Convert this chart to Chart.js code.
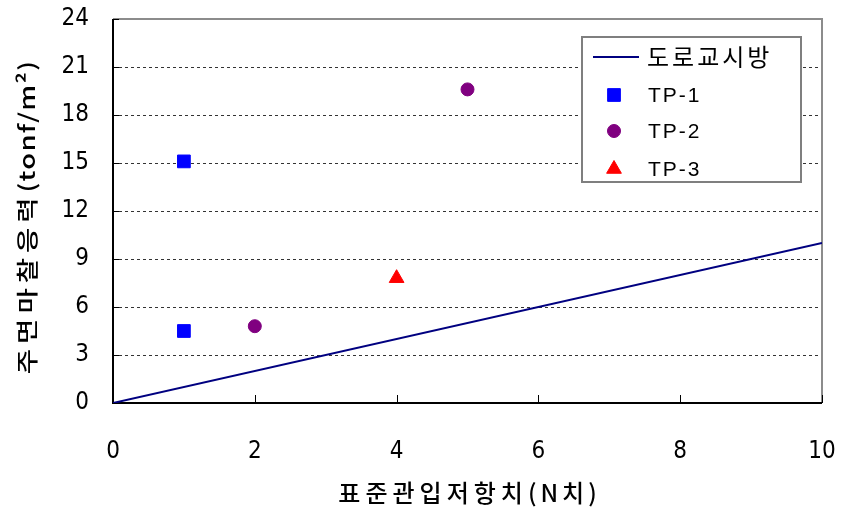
<!DOCTYPE html>
<html>
<head>
<meta charset="utf-8">
<script src="https://cdn.jsdelivr.net/npm/chart.js@4.4.1/dist/chart.umd.min.js"></script>
<style>
  html, body { margin: 0; padding: 0; background: #ffffff; }
  #wrap { width: 841px; height: 513px; position: relative; }
</style>
</head>
<body>
<div id="wrap"><canvas id="c" width="841" height="513"></canvas></div>
<script>
// Design-code line (도로교시방): friction = N value
const specN = [0, 10];
const specFriction = [0, 10];

// Field test piles
const tp1N = [1, 1];
const tp1Friction = [15.1, 4.5];
const tp2N = [2, 5];
const tp2Friction = [4.8, 19.6];
const tp3N = [4];
const tp3Friction = [7.8];

const seriesNames = ['도로교시방', 'TP-1', 'TP-2', 'TP-3'];
const xTicks = [0, 2, 4, 6, 8, 10];
const yTicks = [0, 3, 6, 9, 12, 15, 18, 21, 24];
// axis titles, split into runs that get their own letter spacing
const xTitleRuns = [['표준관입저항치', 5], ['(N치)', 4]];
const yTitleRuns = [['주면마찰응력', 4], ['(tonf/m²)', 1]];

const toPoints = (xs, ys) => xs.map((x, i) => ({ x: x, y: ys[i] }));

const tickFont = { family: "'Liberation Sans Narrow', 'DejaVu Sans Condensed', 'Liberation Sans', sans-serif", size: 24 };
const krFont = "'Noto Sans CJK KR', sans-serif";

// Draws text runs centred on (0,0) of the current transform
function drawRuns(ctx, runs) {
  const widths = runs.map(([text, sp]) => {
    ctx.letterSpacing = sp + 'px';
    return ctx.measureText(text).width;
  });
  const total = widths.reduce((s, w) => s + w, 0);
  let x = -total / 2;
  ctx.textAlign = 'left';
  runs.forEach(([text, sp], i) => {
    ctx.letterSpacing = sp + 'px';
    ctx.fillText(text, x, 0);
    x += widths[i];
  });
  ctx.letterSpacing = '0px';
}

// Frame, inner ticks, axis titles and the boxed legend
const decorations = {
  id: 'decorations',
  beforeDatasetsDraw(chart) {
    const { ctx, chartArea: a } = chart;
    const xs = chart.scales.x, ys = chart.scales.y;
    ctx.save();
    // grey top/right frame
    ctx.strokeStyle = '#8c8c8c';
    ctx.lineWidth = 2;
    ctx.beginPath();
    ctx.moveTo(a.left, a.top);
    ctx.lineTo(a.right, a.top);
    ctx.lineTo(a.right, a.bottom);
    ctx.stroke();
    // black left/bottom axes
    ctx.strokeStyle = '#000000';
    ctx.lineWidth = 2;
    ctx.beginPath();
    ctx.moveTo(a.left, a.top);
    ctx.lineTo(a.left, a.bottom);
    ctx.lineTo(a.right, a.bottom);
    ctx.stroke();
    // inward ticks on the x axis
    ctx.lineWidth = 1;
    xTicks.forEach(v => {
      const px = Math.round(xs.getPixelForValue(v)) + 0.5;
      ctx.beginPath();
      ctx.moveTo(px, a.bottom);
      ctx.lineTo(px, a.bottom - 8);
      ctx.stroke();
    });
    // inward ticks on the y axis
    yTicks.forEach(v => {
      const py = Math.round(ys.getPixelForValue(v)) + 0.5;
      ctx.beginPath();
      ctx.moveTo(a.left, py);
      ctx.lineTo(a.left + 6, py);
      ctx.stroke();
    });
    ctx.restore();
  },
  afterDraw(chart) {
    const { ctx, chartArea: a } = chart;
    ctx.save();
    ctx.fillStyle = '#000000';
    ctx.textBaseline = 'middle';
    ctx.font = '500 24px ' + krFont;
    ctx.save();
    ctx.translate((a.left + a.right) / 2 + 2, 493);
    drawRuns(ctx, xTitleRuns);
    ctx.restore();
    // vertical title, stretched along its reading direction
    ctx.font = '500 22px ' + krFont;
    ctx.translate(27, 217);
    ctx.rotate(-Math.PI / 2);
    ctx.scale(1.25, 1);
    drawRuns(ctx, yTitleRuns);
    ctx.restore();

    // legend box
    const box = { x: 582, y: 37, w: 219, h: 145 };
    ctx.save();
    ctx.fillStyle = '#ffffff';
    ctx.fillRect(box.x, box.y, box.w, box.h);
    ctx.strokeStyle = '#7f7f7f';
    ctx.lineWidth = 2;
    ctx.strokeRect(box.x, box.y, box.w, box.h);
    const rows = [57, 95, 131, 169];
    const ds = chart.data.datasets;
    // line sample
    ctx.strokeStyle = ds[0].borderColor;
    ctx.lineWidth = 2;
    ctx.beginPath();
    ctx.moveTo(593, rows[0]);
    ctx.lineTo(639, rows[0]);
    ctx.stroke();
    // point samples
    for (let i = 1; i < 4; i++) {
      ctx.fillStyle = ds[i].backgroundColor;
      ctx.strokeStyle = ds[i].borderColor;
      ctx.lineWidth = 1;
      Chart.helpers.drawPoint(ctx, {
        pointStyle: ds[i].pointStyle,
        radius: ds[i].pointRadius,
        rotation: 0,
        borderWidth: 1
      }, 614, rows[i]);
    }
    ctx.fillStyle = '#000000';
    ctx.textAlign = 'left';
    ctx.textBaseline = 'middle';
    ctx.font = '24px ' + krFont;
    ctx.letterSpacing = '3px';
    ctx.fillText(seriesNames[0], 647, rows[0]);
    ctx.font = '21px ' + "'Liberation Sans', sans-serif";
    ctx.letterSpacing = '2px';
    for (let i = 1; i < 4; i++) ctx.fillText(seriesNames[i], 648, rows[i] + 1);
    ctx.letterSpacing = '0px';
    ctx.restore();
  }
};

new Chart(document.getElementById('c'), {
  type: 'scatter',
  data: {
    datasets: [
      {
        label: seriesNames[0],
        type: 'line',
        data: toPoints(specN, specFriction),
        borderColor: '#000080',
        backgroundColor: '#000080',
        borderWidth: 2,
        pointRadius: 0,
        fill: false
      },
      {
        label: seriesNames[1],
        data: toPoints(tp1N, tp1Friction),
        pointStyle: 'rect',
        pointRadius: 9,
        backgroundColor: '#0000ff',
        borderColor: '#0000ff',
        borderWidth: 1
      },
      {
        label: seriesNames[2],
        data: toPoints(tp2N, tp2Friction),
        pointStyle: 'circle',
        pointRadius: 6.5,
        backgroundColor: '#800080',
        borderColor: '#800080',
        borderWidth: 1
      },
      {
        label: seriesNames[3],
        data: toPoints(tp3N, tp3Friction),
        pointStyle: 'triangle',
        pointRadius: 8.5,
        backgroundColor: '#ff0000',
        borderColor: '#ff0000',
        borderWidth: 1
      }
    ]
  },
  plugins: [decorations],
  options: {
    responsive: false,
    animation: false,
    events: [],
    layout: { padding: { left: 0, top: 19, right: 19, bottom: 0 } },
    plugins: {
      legend: { display: false },
      tooltip: { enabled: false }
    },
    scales: {
      x: {
        type: 'linear',
        min: 0,
        max: 10,
        afterBuildTicks(scale) { scale.ticks = xTicks.map(v => ({ value: v })); },
        afterFit(scale) {
          scale.height = 110;
          scale.paddingLeft = 0;
          scale.paddingRight = 0;
        },
        grid: { display: false, drawTicks: false },
        border: { display: false },
        ticks: { color: '#000000', font: tickFont, padding: 34, maxRotation: 0 }
      },
      y: {
        type: 'linear',
        min: 0,
        max: 24,
        afterBuildTicks(scale) { scale.ticks = yTicks.map(v => ({ value: v })); },
        afterFit(scale) {
          scale.width = 113;
          scale.paddingTop = 0;
          scale.paddingBottom = 0;
        },
        grid: {
          drawTicks: false,
          color: ctx => (ctx.tick && (ctx.tick.value === 0 || ctx.tick.value === 24)) ? 'rgba(0,0,0,0)' : '#333333',
          lineWidth: 1
        },
        border: { display: false, dash: [3, 3] },
        ticks: { color: '#000000', font: tickFont, padding: 24 }
      }
    }
  }
});
</script>
</body>
</html>
